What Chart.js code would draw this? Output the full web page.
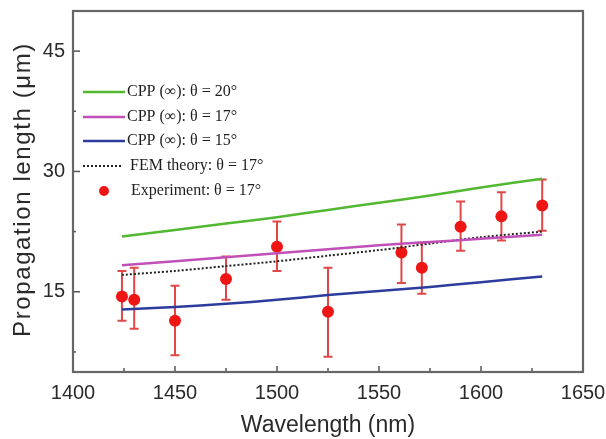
<!DOCTYPE html>
<html>
<head>
<meta charset="utf-8">
<script src="https://cdn.jsdelivr.net/npm/chart.js@4.4.1/dist/chart.umd.min.js"></script>
<style>
  html, body { margin: 0; padding: 0; background: #fff; }
  #wrap { width: 606px; height: 439px; }
</style>
</head>
<body>
<div id="wrap"><canvas id="c" width="606" height="439"></canvas></div>
<script>
// Modelled propagation length (µm) versus wavelength (nm)
const theoryWavelength = [1424, 1450, 1475, 1500, 1525, 1550, 1575, 1600, 1630];
const cpp20 = [21.9, 22.7, 23.5, 24.3, 25.2, 26.1, 27.0, 28.0, 29.1];
const cpp17 = [18.3, 18.8, 19.3, 19.8, 20.3, 20.8, 21.2, 21.6, 22.1];
const cpp15 = [12.8, 13.1, 13.5, 14.0, 14.6, 15.1, 15.6, 16.2, 16.9];
const femTheory = [17.1, 17.6, 18.2, 18.8, 19.5, 20.2, 21.0, 21.8, 22.5];

// Measured propagation length with error range
const expWavelength = [1424, 1430, 1450, 1475, 1500, 1525, 1561, 1571, 1590, 1610, 1630];
const expLength = [14.4, 14.0, 11.4, 16.6, 20.6, 12.5, 19.9, 18.0, 23.1, 24.4, 25.75];
const expLow = [11.4, 10.4, 7.1, 14.0, 17.6, 6.9, 16.1, 14.75, 20.1, 21.4, 22.6];
const expHigh = [17.6, 18.0, 15.75, 19.4, 23.75, 18.0, 23.4, 21.1, 26.25, 27.4, 29.0];

// Axis ticks (every tick is drawn, only the labelled ones carry text)
const xTicks = [1400, 1425, 1450, 1475, 1500, 1525, 1550, 1575, 1600, 1625, 1650];
const xLabels = [1400, 1450, 1500, 1550, 1600, 1650];
const yTicks = [7.5, 15, 22.5, 30, 37.5, 45];
const yLabels = [15, 30, 45];

const xTitle = 'Wavelength (nm)';
const yTitle = 'Propagation length (\u03bcm)';

const seriesLabels = [
  'CPP (\u221e): \u03b8 = 20\u00b0',
  'CPP (\u221e): \u03b8 = 17\u00b0',
  'CPP (\u221e): \u03b8 = 15\u00b0',
  'FEM theory: \u03b8 = 17\u00b0',
  'Experiment: \u03b8 = 17\u00b0'
];

const pts = (xs, ys) => xs.map((x, i) => ({ x: x, y: ys[i] }));

const lineStyle = (color) => ({
  borderColor: color, backgroundColor: color, borderWidth: 2.5,
  pointRadius: 0, showLine: true, fill: false, tension: 0.3
});

const datasets = [
  Object.assign({ label: seriesLabels[0], data: pts(theoryWavelength, cpp20) }, lineStyle('#52b832')),
  Object.assign({ label: seriesLabels[1], data: pts(theoryWavelength, cpp17) }, lineStyle('#c050b8')),
  Object.assign({ label: seriesLabels[2], data: pts(theoryWavelength, cpp15) }, lineStyle('#2b3c9c')),
  Object.assign({ label: seriesLabels[3], data: pts(theoryWavelength, femTheory) }, lineStyle('#222222'), { borderDash: [2, 2], borderWidth: 2 }),
  { label: seriesLabels[4], data: pts(expWavelength, expLength), showLine: false,
    pointRadius: 6, pointBackgroundColor: '#ee1515', pointBorderWidth: 0,
    backgroundColor: '#ee1515', borderColor: '#ee1515' }
];

// Error bars for the measured series
const errorBars = {
  id: 'errorBars',
  beforeDatasetsDraw(chart) {
    const { ctx, scales: { x, y } } = chart;
    ctx.save();
    ctx.strokeStyle = '#e04848';
    ctx.lineWidth = 2;
    expWavelength.forEach((w, i) => {
      const px = x.getPixelForValue(w);
      const yl = y.getPixelForValue(expLow[i]);
      const yh = y.getPixelForValue(expHigh[i]);
      ctx.beginPath();
      ctx.moveTo(px, yl); ctx.lineTo(px, yh);
      ctx.moveTo(px - 4.5, yl); ctx.lineTo(px + 4.5, yl);
      ctx.moveTo(px - 4.5, yh); ctx.lineTo(px + 4.5, yh);
      ctx.stroke();
    });
    ctx.restore();
  }
};

// Box frame with inward tick marks, plus the rotated y-axis title
const frame = {
  id: 'frame',
  afterDraw(chart) {
    const { ctx, chartArea: a, scales: { x, y } } = chart;
    ctx.save();
    ctx.strokeStyle = '#555';
    ctx.lineWidth = 1.5;
    xTicks.forEach(v => {
      const px = x.getPixelForValue(v);
      const len = xLabels.includes(v) ? 6 : 4;
      ctx.beginPath(); ctx.moveTo(px, a.bottom); ctx.lineTo(px, a.bottom - len); ctx.stroke();
    });
    yTicks.forEach(v => {
      const py = y.getPixelForValue(v);
      const len = yLabels.includes(v) ? 7 : 3;
      ctx.beginPath(); ctx.moveTo(a.left, py); ctx.lineTo(a.left + len, py); ctx.stroke();
    });
    ctx.strokeStyle = '#666';
    ctx.lineWidth = 2.2;
    ctx.strokeRect(a.left, a.top, a.right - a.left, a.bottom - a.top);

    // y-axis title, letter-spaced along the axis
    ctx.translate(23, (a.top + a.bottom) / 2 - 2);
    ctx.rotate(-Math.PI / 2);
    ctx.font = '24px "Liberation Sans"';
    if ('letterSpacing' in ctx) ctx.letterSpacing = '1.6px';
    ctx.fillStyle = '#2a2a2a';
    ctx.textAlign = 'center';
    ctx.textBaseline = 'middle';
    ctx.fillText(yTitle, 0, 0);
    ctx.restore();
  }
};

// Legend drawn inside the plot area
const insideLegend = {
  id: 'insideLegend',
  afterDatasetsDraw(chart) {
    const { ctx } = chart;
    const rowY = [92, 117, 141, 166, 191];
    ctx.save();
    ctx.font = '16px "Liberation Serif"';
    ctx.textBaseline = 'middle';
    chart.data.datasets.forEach((ds, i) => {
      const yy = rowY[i];
      if (ds.showLine === false) {
        ctx.fillStyle = ds.pointBackgroundColor;
        ctx.beginPath(); ctx.arc(104, yy, 5, 0, Math.PI * 2); ctx.fill();
      } else {
        ctx.strokeStyle = ds.borderColor;
        ctx.lineWidth = ds.borderWidth;
        ctx.setLineDash(ds.borderDash || []);
        ctx.beginPath(); ctx.moveTo(83, yy); ctx.lineTo(ds.borderDash ? 121 : 125, yy); ctx.stroke();
        ctx.setLineDash([]);
      }
      ctx.fillStyle = '#1e1e1e';
      ctx.fillText(ds.label, ds.borderDash ? 130 : (ds.showLine === false ? 131 : 127), yy);
    });
    ctx.restore();
  }
};

const tickFont = { family: 'Liberation Sans', size: 20 };

new Chart(document.getElementById('c'), {
  type: 'scatter',
  data: { datasets: datasets },
  options: {
    responsive: false,
    animation: false,
    devicePixelRatio: 1,
    layout: { padding: { top: 11, right: 23, left: 0, bottom: 0 } },
    plugins: { legend: { display: false }, tooltip: { enabled: false } },
    scales: {
      x: {
        type: 'linear', min: 1400, max: 1650,
        afterBuildTicks: s => { s.ticks = xTicks.map(v => ({ value: v })); },
        afterFit: s => { s.height = 67; s.paddingLeft = 0; s.paddingRight = 0; },
        grid: { display: false, drawTicks: false },
        border: { display: false },
        ticks: {
          autoSkip: false, maxRotation: 0, padding: 9, color: '#2a2a2a', font: tickFont,
          callback: v => (xLabels.includes(v) ? String(v) : '')
        },
        title: { display: true, text: xTitle, color: '#2a2a2a', font: { family: 'Liberation Sans', size: 23 }, padding: { top: 0, bottom: 0 } }
      },
      y: {
        type: 'linear', min: 5, max: 50,
        afterBuildTicks: s => { s.ticks = yTicks.map(v => ({ value: v })); },
        afterFit: s => { s.width = 73; s.paddingTop = 0; s.paddingBottom = 0; },
        grid: { display: false, drawTicks: false },
        border: { display: false },
        ticks: {
          autoSkip: false, padding: 8, color: '#2a2a2a', font: tickFont,
          callback: v => (yLabels.includes(v) ? String(v) : '')
        },
        title: { display: false }
      }
    }
  },
  plugins: [errorBars, frame, insideLegend]
});
</script>
</body>
</html>
